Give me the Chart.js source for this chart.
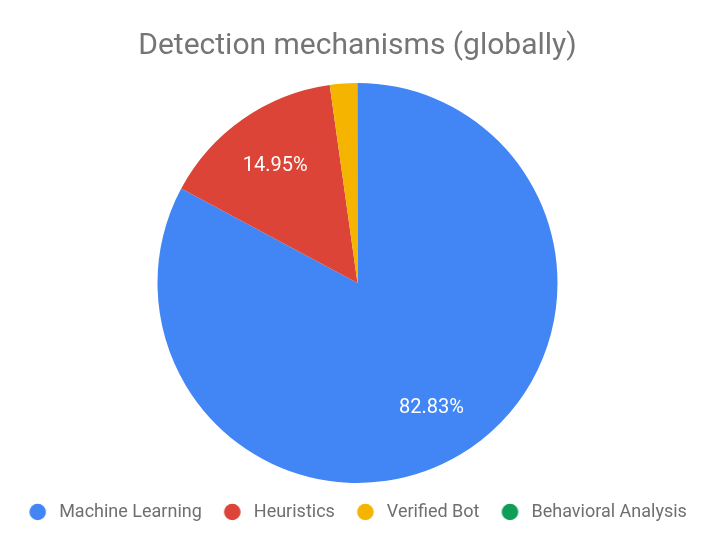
<!DOCTYPE html>
<html>
<head>
<meta charset="utf-8">
<script src="https://cdn.jsdelivr.net/npm/chart.js@4"></script>
<style>
html,body{margin:0;padding:0;background:#fff;}
#wrap{width:715px;height:550px;position:relative;}
</style>
</head>
<body>
<div id="wrap"><canvas id="c"></canvas></div>
<script>
const categories = ["Machine Learning", "Heuristics", "Verified Bot", "Behavioral Analysis"];
const shares = [82.83, 14.95, 2.2, 0.02];
const labelsShown = ["82.83%", "14.95%", "", ""];
const colors = ["#4285F4", "#DB4437", "#F4B400", "#0F9D58"];
const titleText = "Detection mechanisms (globally)";

// legend marker images: circle inside a slightly wider box
function makeDot(color) {
  const cv = document.createElement('canvas');
  cv.width = 22; cv.height = 18;
  const g = cv.getContext('2d');
  g.fillStyle = color;
  g.beginPath();
  g.arc(9.5, 9, 8.3, 0, Math.PI * 2);
  g.fill();
  return cv;
}
const dots = colors.map(makeDot);

const sliceLabels = {
  id: 'sliceLabels',
  afterDatasetsDraw(chart) {
    const ctx = chart.ctx;
    const meta = chart.getDatasetMeta(0);
    ctx.save();
    ctx.fillStyle = '#ffffff';
    ctx.font = '20px Roboto';
    ctx.textAlign = 'center';
    ctx.textBaseline = 'middle';
    meta.data.forEach((arc, i) => {
      const t = labelsShown[i];
      if (!t) return;
      const p = arc.getProps(['x','y','startAngle','endAngle','outerRadius'], true);
      const mid = (p.startAngle + p.endAngle) / 2;
      const r = p.outerRadius * 0.72;
      ctx.fillText(t, p.x + Math.cos(mid) * r, p.y + Math.sin(mid) * r + 1);
    });
    ctx.restore();
  }
};

new Chart(document.getElementById('c'), {
  type: 'pie',
  data: {
    labels: categories,
    datasets: [{
      data: shares,
      backgroundColor: colors,
      borderWidth: 0,
      radius: 200
    }]
  },
  options: {
    responsive: true,
    maintainAspectRatio: false,
    animation: false,
    layout: { padding: { bottom: 19 } },
    plugins: {
      title: {
        display: true,
        text: titleText,
        color: '#757575',
        font: { family: 'Roboto', size: 30, weight: 'normal' },
        padding: { top: 28.5, bottom: 19.5 }
      },
      legend: {
        position: 'bottom',
        labels: {
          usePointStyle: true,
          pointStyleWidth: 22,
          boxHeight: 12,
          color: '#6f6f6f',
          padding: 21,
          font: { family: 'Roboto', size: 18 },
          generateLabels(chart) {
            return categories.map((c, i) => ({
              text: c,
              fillStyle: colors[i],
              strokeStyle: colors[i],
              lineWidth: 0,
              pointStyle: dots[i],
              fontColor: '#6f6f6f',
              hidden: !chart.getDataVisibility(i),
              index: i
            }));
          }
        }
      },
      tooltip: { enabled: false }
    }
  },
  plugins: [sliceLabels]
});
</script>
</body>
</html>
